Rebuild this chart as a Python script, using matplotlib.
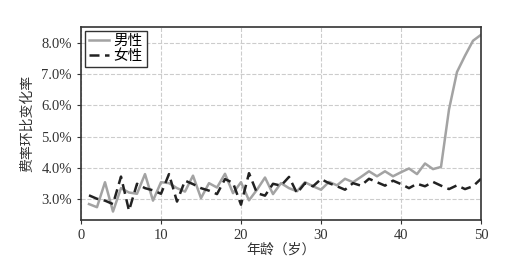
import matplotlib
matplotlib.use("Agg")
import matplotlib.pyplot as plt
from matplotlib.ticker import FuncFormatter

# Datos: edad y tasa de variación (%)
edad = list(range(1, 51))

hombres = [2.84, 2.74, 3.54, 2.60, 3.35, 3.21, 3.17, 3.80, 2.95, 3.54,
           3.51, 3.35, 3.24, 3.75, 3.03, 3.51, 3.37, 3.81, 3.19, 3.54,
           2.96, 3.30, 3.69, 3.16, 3.51, 3.35, 3.25, 3.54, 3.41, 3.30,
           3.55, 3.44, 3.65, 3.54, 3.71, 3.89, 3.73, 3.89, 3.73, 3.86,
           3.98, 3.80, 4.14, 3.96, 4.03, 5.87, 7.07, 7.59, 8.07, 8.26]

mujeres = [3.12, 3.01, 2.95, 2.84, 3.72, 2.63, 3.49, 3.35, 3.28, 3.17,
           3.80, 2.92, 3.59, 3.48, 3.35, 3.27, 3.16, 3.64, 3.52, 2.82,
           3.83, 3.19, 3.11, 3.49, 3.43, 3.71, 3.19, 3.51, 3.41, 3.64,
           3.51, 3.41, 3.30, 3.51, 3.43, 3.65, 3.54, 3.43, 3.59, 3.48,
           3.35, 3.49, 3.41, 3.55, 3.43, 3.32, 3.44, 3.32, 3.41, 3.65]

etiquetas = ["男性", "女性"]

plt.rcParams["font.family"] = ["Liberation Serif", "Noto Sans CJK SC", "DejaVu Sans"]

fig = plt.figure(figsize=(5.11, 2.66), dpi=100)
ax = fig.add_axes([0.1585, 0.1729, 0.7828, 0.7256])

ax.plot(edad, hombres, color="#a3a3a3", linewidth=1.8, label=etiquetas[0])
ax.plot(edad, mujeres, color="#222222", linewidth=1.8, linestyle=(0, (4, 2.2)),
        label=etiquetas[1])

ax.set_xlim(0, 50)
ax.set_ylim(2.33, 8.51)
ax.set_xticks([0, 10, 20, 30, 40, 50])
ax.set_yticks([3, 4, 5, 6, 7, 8])
ax.yaxis.set_major_formatter(FuncFormatter(lambda v, p: f"{v:.1f}%"))

ax.grid(True, linestyle="--", color="#cccccc", linewidth=0.8)
for s in ax.spines.values():
    s.set_color("#333333")
    s.set_linewidth(1.2)
ax.tick_params(labelsize=10.5, colors="#333333", length=3, width=0.8)

ax.set_xlabel("年龄（岁）", fontsize=10, color="#333333", labelpad=1)
ax.set_ylabel("费率环比变化率", fontsize=10, color="#333333", labelpad=5)

leg = ax.legend(loc="upper left", fontsize=10.5, frameon=True, fancybox=False,
                handlelength=1.4, handletextpad=0.3, borderpad=0.25,
                labelspacing=0.1, borderaxespad=0.3)
leg.get_frame().set_edgecolor("#333333")
leg.get_frame().set_linewidth(1.0)
leg.get_frame().set_alpha(1)

fig.savefig("out.png", dpi=100)
